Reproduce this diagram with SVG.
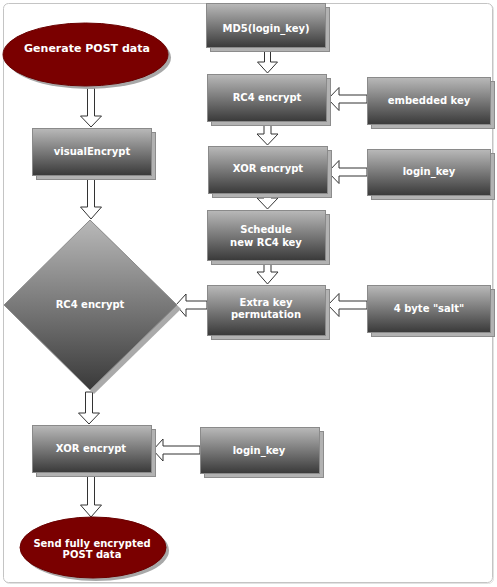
<svg xmlns="http://www.w3.org/2000/svg" width="497" height="587" viewBox="0 0 497 587">
<defs>
<linearGradient id="g" x1="0" y1="0" x2="0" y2="1">
<stop offset="0" stop-color="#b9b9b9"/>
<stop offset="1" stop-color="#393939"/>
</linearGradient>
<style>
.box{fill:url(#g);stroke:#8a8a8a;stroke-width:1}
.sh{fill:#b2b2b2;stroke:#8c8c8c;stroke-width:1}
.ell{fill:#7a0000;stroke:#6a0000;stroke-width:1}
.esh{fill:#a8a8a8}
.t{font-family:"DejaVu Sans",Verdana,sans-serif;font-weight:bold;font-size:10px;fill:#ffffff;text-anchor:middle}
.te{font-size:11px}
.ar{fill:#ffffff;stroke:#333333;stroke-width:1;stroke-linejoin:miter}
</style>
</defs>
<rect x="0" y="0" width="497" height="587" fill="#ffffff"/>
<rect x="4.5" y="4.5" width="489" height="579" rx="5" fill="none" stroke="#e2e2e2"/>
<rect x="3.5" y="3.5" width="489" height="579" rx="5" fill="#ffffff" stroke="#c4c4c4"/>

<g id="connectors">
<polygon class="ar" points="87.5,88 94.5,88 94.5,116 101.5,116 91,127 80.5,116 87.5,116"/>
<polygon class="ar" points="87.5,179 94.5,179 94.5,207 101.5,207 91,219 80.5,207 87.5,207"/>
<polygon class="ar" points="85.5,392 92.5,392 92.5,413 99.5,413 89,424 78.5,413 85.5,413"/>
<polygon class="ar" points="87.5,476 94.5,476 94.5,505 101.5,505 91,517 80.5,505 87.5,505"/>
<polygon class="ar" points="264.5,51 270.5,51 270.5,62 277.5,62 267.5,73 257.5,62 264.5,62"/>
<polygon class="ar" points="264,125 271,125 271,134 278,134 267.5,145 257,134 264,134"/>
<polygon class="ar" points="264,197 271,197 271,198 278,198 267.5,209 257,198 264,198"/>
<polygon class="ar" points="264,264 271,264 271,272 278,272 267.5,284 257,272 264,272"/>
<polygon class="ar" points="367,95 339,95 339,87.5 328,99 339,110.5 339,103 367,103"/>
<polygon class="ar" points="367,168 339,168 339,160.5 328,172 339,183.5 339,176 367,176"/>
<polygon class="ar" points="367,301 339,301 339,293.5 328,305 339,316.5 339,309 367,309"/>
<polygon class="ar" points="207,301 186,301 186,294 176,305 186,316.5 186,309 207,309"/>
<polygon class="ar" points="200,446 163,446 163,439 153,450 163,461 163,454 200,454"/>
</g>

<g id="generate">
<ellipse class="esh" cx="88.5" cy="57.5" rx="82.5" ry="31.5"/>
<ellipse class="ell" cx="85.5" cy="54.5" rx="82.5" ry="31.5"/>
<text class="t te" x="87" y="52">Generate POST data</text>
</g>

<g id="visualEncrypt">
<rect class="sh" x="36.5" y="132.5" width="119" height="47"/>
<rect class="box" x="32.5" y="128.5" width="119" height="47"/>
<text class="t" x="92" y="155">visualEncrypt</text>
</g>

<g id="rc4diamond">
<polygon fill="#aaaaaa" points="94,224 181,309 94,394 8,309"/>
<polygon class="box" points="90,220 177,305 90,390 4,305"/>
<text class="t" x="90" y="308">RC4 encrypt</text>
</g>

<g id="xorBottom">
<rect class="sh" x="36.5" y="429.5" width="119" height="47"/>
<rect class="box" x="32.5" y="425.5" width="119" height="47"/>
<text class="t" x="91" y="452">XOR encrypt</text>
</g>

<g id="loginKeyBottom">
<rect class="sh" x="204.5" y="431.5" width="119" height="46"/>
<rect class="box" x="200.5" y="427.5" width="119" height="46"/>
<text class="t" x="259" y="454">login_key</text>
</g>

<g id="send">
<ellipse class="esh" cx="96" cy="550.5" rx="73" ry="30.5"/>
<ellipse class="ell" cx="93" cy="547.5" rx="73" ry="30.5"/>
<text class="t" x="92" y="547">Send fully encrypted</text>
<text class="t" x="92" y="558">POST data</text>
</g>

<g id="md5">
<rect class="sh" x="210.5" y="7.5" width="119" height="44"/>
<rect class="box" x="206.5" y="3.5" width="119" height="44"/>
<text class="t" x="266" y="32">MD5(login_key)</text>
</g>

<g id="rc4box">
<rect class="sh" x="211.5" y="78.5" width="119" height="47"/>
<rect class="box" x="207.5" y="74.5" width="119" height="47"/>
<text class="t" x="267" y="101">RC4 encrypt</text>
</g>

<g id="embeddedKey">
<rect class="sh" x="371.5" y="81.5" width="123" height="47"/>
<rect class="box" x="367.5" y="77.5" width="123" height="47"/>
<text class="t" x="429" y="104">embedded key</text>
</g>

<g id="xorTop">
<rect class="sh" x="212.5" y="150.5" width="119" height="47"/>
<rect class="box" x="208.5" y="146.5" width="119" height="47"/>
<text class="t" x="268" y="172">XOR encrypt</text>
</g>

<g id="loginKeyTop">
<rect class="sh" x="371.5" y="153.5" width="123" height="46"/>
<rect class="box" x="367.5" y="149.5" width="123" height="46"/>
<text class="t" x="429" y="175">login_key</text>
</g>

<g id="schedule">
<rect class="sh" x="211.5" y="214.5" width="118" height="50"/>
<rect class="box" x="207.5" y="210.5" width="118" height="50"/>
<text class="t" x="266" y="233">Schedule</text>
<text class="t" x="266" y="246">new RC4 key</text>
</g>

<g id="extraKey">
<rect class="sh" x="211.5" y="289.5" width="118" height="50"/>
<rect class="box" x="207.5" y="285.5" width="118" height="50"/>
<text class="t" x="266" y="306">Extra key</text>
<text class="t" x="266" y="318">permutation</text>
</g>

<g id="salt">
<rect class="sh" x="371.5" y="289.5" width="123" height="47"/>
<rect class="box" x="367.5" y="285.5" width="123" height="47"/>
<text class="t" x="429" y="312">4 byte "salt"</text>
</g>
</svg>
